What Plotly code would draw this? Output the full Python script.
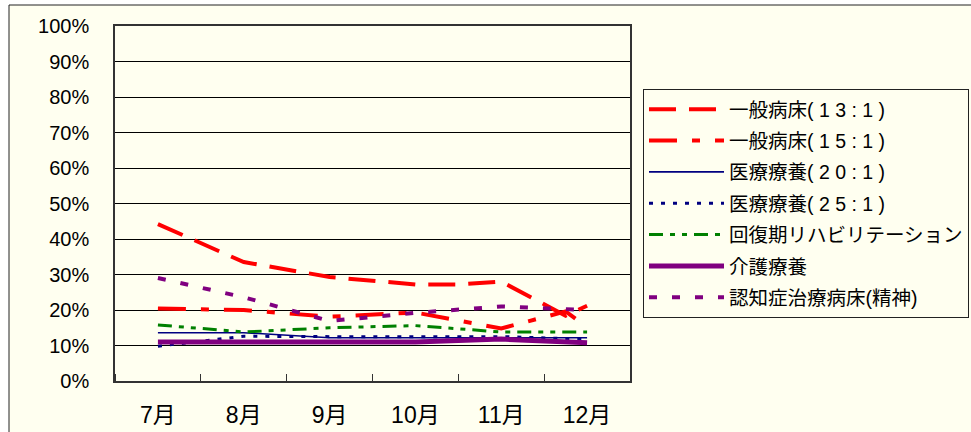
import plotly.graph_objects as go

# Month labels on the horizontal axis (index 0 = 7月)
months = ["7月", "8月", "9月", "10月", "11月", "12月"]
month_pos = [0, 1, 2, 3, 4, 5]

# Occupancy share per ward type (%), x given in month index units
ippan13_x = [0, 1, 2, 3, 3.5, 4, 4.75, 5]
ippan13 = [44.2, 33.5, 29.3, 27.2, 27.2, 28.0, 18.4, 21.2]

ippan15_x = [0, 1, 2, 3, 4, 4.75, 5]
ippan15 = [20.4, 20.0, 18.1, 19.3, 14.8, 19.6, 15.1]

iryo20 = [13.6, 13.6, 12.2, 12.2, 12.4, 12.2]
iryo25 = [9.8, 12.6, 12.5, 12.5, 12.5, 11.8]
kaifuku = [15.8, 13.8, 15.0, 15.6, 13.8, 13.8]
kaigo = [11.0, 11.0, 11.0, 11.0, 11.8, 10.8]
ninchi = [29.0, 23.6, 16.9, 19.2, 21.0, 20.0]

names = [
    "一般病床( 1 3 : 1 )",
    "一般病床( 1 5 : 1 )",
    "医療療養( 2 0 : 1 )",
    "医療療養( 2 5 : 1 )",
    "回復期リハビリテーション",
    "介護療養",
    "認知症治療病床(精神)",
]

series = [
    (ippan13_x, ippan13, "#FF0000", 4, "27px,13px"),
    (ippan15_x, ippan15, "#FF0000", 4, "28px,15px,8px,15px"),
    (month_pos, iryo20, "#000080", 1.6, "solid"),
    (month_pos, iryo25, "#000080", 3, "4px,8px"),
    (month_pos, kaifuku, "#008000", 3, "14px,7px,5px,7px,5px,7px"),
    (month_pos, kaigo, "#800080", 5, "solid"),
    (month_pos, ninchi, "#800080", 4, "8px,15px"),
]

fig = go.Figure()
for i, (xs, ys, color, width, dash) in enumerate(series):
    fig.add_trace(go.Scatter(
        x=xs, y=ys, mode="lines", name=names[i], legendgroup=str(i),
        line=dict(color=color, width=width, dash=dash),
        hoverinfo="skip",
    ))

W, H = 971, 432
L, R, T, B = 115, 630, 26, 381
pw, ph = R - L, B - T


def px_x(p):
    return (p - L) / pw


def px_y(p):
    return (B - p) / ph


# outer chart frame
fig.add_shape(
    type="rect", xref="paper", yref="paper",
    x0=px_x(9), x1=px_x(990), y0=px_y(450), y1=px_y(5),
    line=dict(color="#222222", width=1), fillcolor="#FFFFF0", layer="below",
)

font_family = "Liberation Sans, Arial, Noto Sans CJK JP, sans-serif"

fig.update_layout(
    width=W, height=H,
    margin=dict(l=L, r=W - R, t=T, b=H - B, autoexpand=False),
    paper_bgcolor="white",
    plot_bgcolor="#FFFFF0",
    font=dict(family=font_family, color="black"),
    showlegend=True,
    legend=dict(
        xref="paper", yref="paper",
        x=px_x(643), y=px_y(89), xanchor="left", yanchor="top",
        bgcolor="#FFFFF0", bordercolor="#222222", borderwidth=1,
        font=dict(size=19.5, family=font_family, color="black"),
        tracegroupgap=3, itemwidth=75,
    ),
    xaxis=dict(
        range=[-0.5, 5.5], tickmode="array", tickvals=month_pos, ticktext=months,
        ticks="", showgrid=False, zeroline=False, automargin=False,
        showline=True, linecolor="#333333", linewidth=1.5, mirror=True,
        tickfont=dict(size=23), ticklabelstandoff=13,
        minor=dict(tick0=0.5, dtick=1, ticks="inside", ticklen=7,
                   tickcolor="#333333", tickwidth=1, showgrid=False),
    ),
    yaxis=dict(
        range=[0, 100], dtick=10, ticksuffix="%", automargin=False,
        showgrid=True, gridcolor="black", gridwidth=1, zeroline=False,
        showline=True, linecolor="#333333", linewidth=1.5, mirror=True,
        ticks="", tickfont=dict(size=20), ticklabelstandoff=20,
    ),
)

fig.write_html("out.html")
